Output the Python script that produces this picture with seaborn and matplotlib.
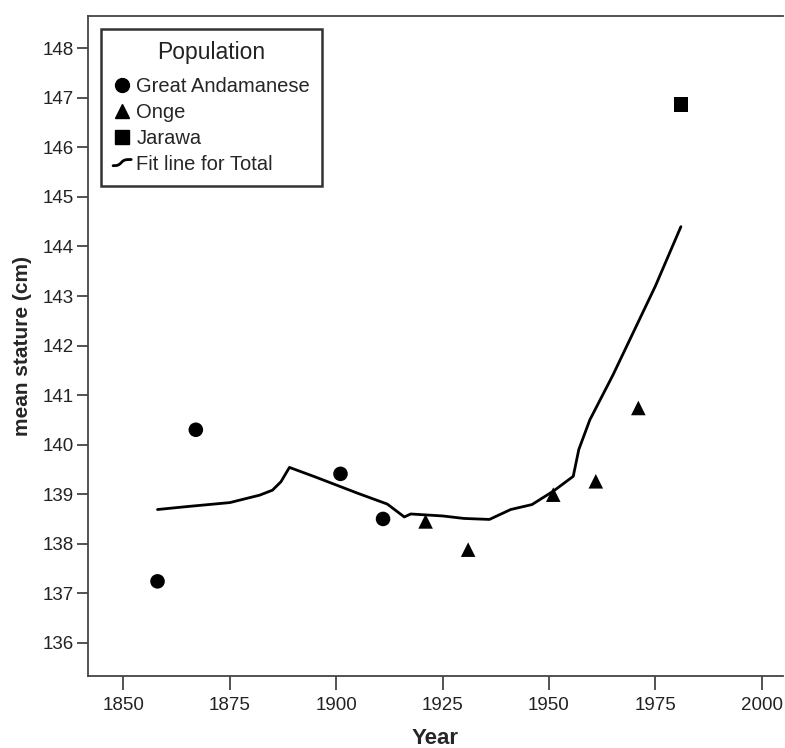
import numpy as np
import pandas as pd
import matplotlib
matplotlib.use("Agg")
import matplotlib.pyplot as plt
from matplotlib.lines import Line2D
from matplotlib.legend_handler import HandlerBase
import seaborn as sns

# observed mean stature by population
ga_year = [1858, 1867, 1901, 1911]
ga_stature = [137.24, 140.30, 139.41, 138.50]
onge_year = [1921, 1931, 1951, 1961, 1971]
onge_stature = [138.45, 137.88, 138.99, 139.26, 140.74]
jarawa_year = [1981]
jarawa_stature = [146.87]

# fit line for total
fit_year = [1858, 1865, 1875, 1882, 1885, 1887, 1889, 1895, 1905, 1912, 1916,
            1917.5, 1925, 1930, 1936, 1941, 1946, 1951, 1955.7, 1957, 1959.6,
            1965, 1970, 1975, 1981]
fit_stature = [138.69, 138.75, 138.83, 138.98, 139.08, 139.25, 139.54, 139.35,
               139.02, 138.80, 138.54, 138.60, 138.56, 138.51, 138.49, 138.69,
               138.79, 139.06, 139.36, 139.90, 140.50, 141.40, 142.30, 143.20,
               144.40]

populations = ["Great Andamanese", "Onge", "Jarawa"]
markers = {"Great Andamanese": "o", "Onge": "^", "Jarawa": "s"}

df = pd.DataFrame({
    "Year": ga_year + onge_year + jarawa_year,
    "stature": ga_stature + onge_stature + jarawa_stature,
    "Population": (["Great Andamanese"] * len(ga_year) + ["Onge"] * len(onge_year)
                   + ["Jarawa"] * len(jarawa_year)),
})
fit_df = pd.DataFrame({"Year": fit_year, "stature": fit_stature})


# little s-shaped glyph for the fit line entry, like the SPSS legend
class WaveHandler(HandlerBase):
    def create_artists(self, legend, orig_handle, xdescent, ydescent,
                       width, height, fontsize, trans):
        t = np.linspace(0, 1, 30)
        xs = -xdescent + t * width
        ys = -ydescent + height * (0.5 + 0.22 * np.tanh((t - 0.45) * 6))
        line = Line2D(xs, ys, color="black", linewidth=2, transform=trans)
        return [line]


sns.set_style("white")
plt.rcParams["font.family"] = ["Liberation Sans", "DejaVu Sans"]

fig = plt.figure(figsize=(7.85, 7.48), dpi=100)
ax = fig.add_axes([0.1121, 0.0963, 0.885, 0.8828])

sns.lineplot(data=fit_df, x="Year", y="stature", color="black", linewidth=2,
             ax=ax, legend=False, sort=False)
sns.scatterplot(data=df, x="Year", y="stature", style="Population",
                markers=markers, style_order=populations, color="black",
                s=110, edgecolor="none", ax=ax, legend=False)

ax.set_xlim(1841.66, 2004.93)
ax.set_ylim(135.33, 148.66)
ax.set_xticks(range(1850, 2001, 25))
ax.set_yticks(range(136, 149))
ax.tick_params(axis="x", direction="out", length=10, width=1.3, color="#444444",
               labelsize=13.5, pad=5, bottom=True, labelcolor="#222222")
ax.tick_params(axis="y", direction="out", length=8, width=1.3, color="#444444",
               labelsize=13.5, pad=2, left=True, labelcolor="#222222")

for side in ["left", "bottom", "top"]:
    ax.spines[side].set_color("#444444")
    ax.spines[side].set_linewidth(1.3)
ax.spines["right"].set_visible(False)

ax.set_xlabel("Year", fontsize=16, fontweight="bold", labelpad=10)
ax.set_ylabel("mean stature (cm)", fontsize=15, fontweight="bold", labelpad=8)

handles = [Line2D([], [], marker=markers[p], color="black", linestyle="none",
                  markersize=10) for p in populations]
fit_handle = Line2D([], [], color="black", linewidth=2)
handles.append(fit_handle)
labels = populations + ["Fit line for Total"]
leg = ax.legend(handles, labels, title="Population", loc="upper left",
                bbox_to_anchor=(0.0187, 0.98), borderaxespad=0, fontsize=14.5,
                title_fontsize=16.5, frameon=True, fancybox=False,
                handlelength=0.9, handletextpad=0.25, labelspacing=0.34,
                borderpad=0.6, handler_map={fit_handle: WaveHandler()})
leg._legend_box.sep = 9.5  # a bit more room under the title
leg.get_frame().set_edgecolor("black")
leg.get_frame().set_linewidth(1.8)
leg.get_title().set_color("#222222")

fig.savefig("out.png", dpi=100)
